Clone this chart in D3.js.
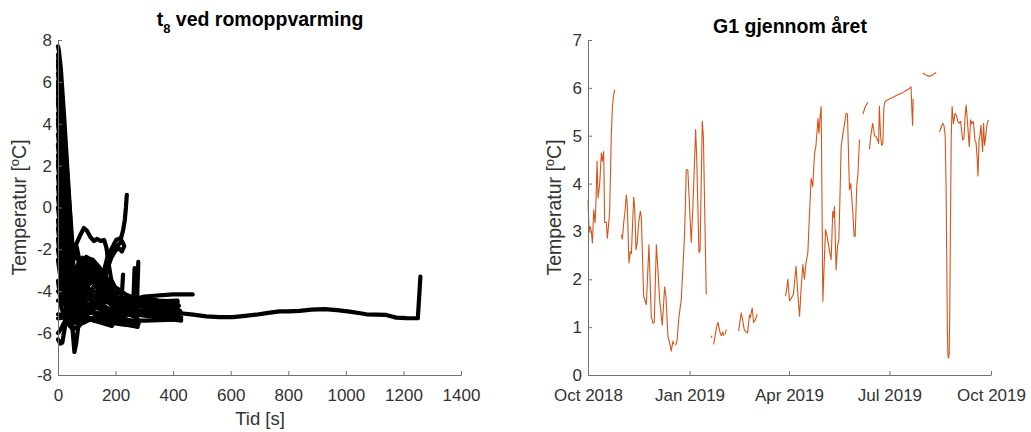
<!DOCTYPE html>
<html>
<head>
<meta charset="utf-8">
<script src="https://cdn.jsdelivr.net/npm/d3@7"></script>
<style>
  body { margin: 0; background: #fff; }
  svg text { font-family: "Liberation Sans", Arial, Helvetica, sans-serif; }
</style>
</head>
<body>
<svg id="fig" width="1031" height="432"></svg>
<script>
// ---------- Left panel: t8 during room heating, one line per heating run ----------
// each point: [time since start (s), temperature (°C)]
const run01 = [[0,7.7],[3,7.5],[10,6.6],[22,4.2],[34,1.5],[42,-0.2],[50,-1.75],[56,-2.0],[65,-1.7],[78,-1.3],[90,-0.98],[100,-1.1],[112,-1.4],[125,-1.6],[135,-1.5],[148,-1.6],[160,-1.55],[168,-1.9],[176,-2.7],[185,-3.45],[198,-3.8],[215,-3.95],[235,-4.15],[260,-4.3],[300,-4.35],[350,-4.45],[415,-4.5]];
const run02 = [[0,7.3],[8,6.3],[18,4.4],[30,2.0],[42,-0.4],[50,-2.2],[57,-3.3],[64,-4.2],[72,-4.6],[90,-4.9],[120,-5.0],[160,-5.1],[200,-5.15],[260,-5.1],[320,-5.05],[380,-5.05],[425,-5.05],[470,-5.12],[515,-5.2],[560,-5.24],[607,-5.24],[650,-5.18],[688,-5.12],[730,-5.03],[770,-4.96],[800,-4.96],[839,-4.94],[880,-4.88],[926,-4.85],[970,-4.9],[1013,-4.97],[1050,-5.05],[1071,-5.1],[1105,-5.12],[1140,-5.13],[1175,-5.26],[1210,-5.28],[1250,-5.29],[1259,-3.3]];
const run03 = [[0,5.8],[15,3.1],[30,0.2],[38,-1.8],[45,-4.0],[51,-5.9],[57,-6.9],[63,-6.5],[72,-5.5],[82,-4.4],[100,-4.0],[130,-4.3],[170,-4.8],[220,-5.3],[275,-5.6],[280,-5.55]];
const run04 = [[0,5.0],[12,3.2],[25,0.9],[37,-1.3],[46,-2.5],[55,-2.2],[65,-1.88],[80,-2.9],[90,-2.6],[98,-2.36],[110,-2.45],[121,-2.5],[140,-2.8],[167,-3.3],[185,-3.8],[200,-4.2],[230,-4.5],[270,-4.6],[350,-4.65],[415,-4.65]];
const run05 = [[0,4.0],[14,2.1],[28,-0.3],[40,-2.5],[50,-4.0],[70,-5.0],[100,-4.8],[120,-4.4],[138,-4.1],[150,-3.6],[160,-3.0],[173,-2.3],[185,-2.0],[202,-1.55],[219,-1.45],[226,-1.1],[232,-0.6],[236,0.0],[239,0.6]];
const run06 = [[0,3.0],[15,1.0],[30,-1.5],[45,-3.8],[65,-5.2],[90,-5.0],[120,-4.7],[144,-3.9],[160,-3.2],[175,-2.6],[190,-2.2],[202,-1.9],[215,-1.7],[222,-1.6],[228,-1.75]];
const run07 = [[0,2.0],[18,-0.3],[32,-2.4],[50,-4.5],[75,-5.3],[110,-5.0],[135,-4.4],[155,-3.7],[170,-3.0],[185,-2.4],[200,-2.05],[212,-1.95],[222,-2.1],[230,-1.85]];
const run08 = [[0,1.0],[12,-0.6],[25,-2.4],[40,-4.2],[55,-5.2],[80,-5.1],[120,-5.0],[160,-5.3],[188,-5.65]];
const run09 = [[0,0.0],[10,-1.2],[25,-2.8],[40,-4.3],[60,-5.0],[90,-4.5],[110,-3.0],[125,-2.6],[140,-2.85],[160,-3.5],[190,-4.0],[215,-4.1],[222,-4.15],[226,-3.2]];
const run10 = [[0,-0.6],[8,-1.7],[20,-3.3],[35,-4.6],[55,-5.3],[80,-4.2],[100,-3.0],[115,-2.55],[130,-2.7],[150,-3.4],[175,-4.0],[210,-4.3],[250,-4.35],[262,-4.4],[266,-2.9]];
const run11 = [[0,-1.5],[10,-2.9],[25,-4.4],[45,-5.3],[70,-4.8],[95,-3.5],[110,-2.8],[125,-3.0],[150,-3.8],[190,-4.3],[240,-4.35],[275,-4.3],[279,-2.6]];
const run12 = [[0,-2.5],[15,-4.0],[30,-5.0],[50,-5.6],[70,-4.5],[90,-2.9],[105,-2.6],[120,-3.2],[150,-4.2],[200,-4.7],[260,-4.9],[330,-5.0],[425,-5.0]];
const run13 = [[0,-4.45],[35,-4.45],[45,-4.9],[60,-5.4],[80,-5.0],[100,-4.4],[130,-4.3],[170,-4.5],[230,-4.8],[300,-4.95],[420,-5.05]];
const run14 = [[0,-5.1],[20,-5.15],[40,-5.2],[60,-5.5],[90,-5.3],[130,-5.4],[180,-5.5],[230,-5.6],[275,-5.65]];
const run15 = [[0,-5.3],[20,-5.25],[45,-5.6],[80,-5.2],[120,-5.0],[160,-5.2],[200,-5.4],[300,-5.4],[428,-5.35]];
const run16 = [[0,-6.0],[10,-5.8],[25,-5.4],[50,-5.8],[70,-5.7],[100,-5.3],[150,-5.5],[185,-5.65]];
const run17 = [[0,-6.3],[8,-6.5],[15,-6.45],[28,-5.4],[45,-5.0],[70,-4.7],[100,-4.8],[150,-5.2],[210,-5.5],[277,-5.7]];
const run18 = [[0,6.0],[15,3.4],[30,0.8],[45,-2.0],[60,-4.2],[80,-5.2],[120,-5.3],[170,-5.35],[220,-5.5],[270,-5.6]];
const run19 = [[0,4.5],[15,2.4],[30,-0.2],[43,-2.4],[55,-4.0],[75,-4.8],[110,-4.6],[160,-4.5],[220,-4.6],[300,-4.7],[380,-4.75],[420,-4.7]];
const run20 = [[0,2.5],[15,0.3],[30,-2.3],[45,-4.4],[60,-4.6],[75,-3.5],[90,-2.7],[100,-2.5],[115,-2.6],[135,-3.3],[160,-4.0],[200,-4.4],[260,-4.5],[330,-4.5],[415,-4.45]];
const run21 = [[0,-1.0],[12,-2.4],[28,-4.0],[45,-5.2],[62,-5.3],[85,-4.5],[105,-3.7],[125,-3.5],[150,-4.2],[200,-4.6],[300,-4.25],[400,-4.15],[468,-4.15]];
const run22 = [[0,3.5],[15,1.4],[30,-1.2],[48,-4.0],[62,-5.3],[90,-5.5],[130,-5.2],[180,-5.0],[240,-5.1],[320,-5.15],[428,-5.25]];
const run23 = [[0,-3.5],[12,-4.8],[30,-5.5],[55,-5.3],[85,-4.7],[100,-3.9],[118,-3.0],[130,-3.0],[150,-3.5],[190,-4.8],[230,-5.4],[276,-5.6]];
const run24 = [[0,1.5],[15,-0.6],[30,-2.9],[45,-4.8],[65,-5.5],[90,-5.0],[130,-4.8],[180,-4.9],[250,-5.0],[330,-5.05],[420,-4.9]];
const run25 = [[0,6.8],[10,5.4],[20,3.6],[30,1.6],[40,-0.4],[48,-2.2],[56,-3.6],[66,-3.0],[80,-2.6],[95,-2.7],[110,-3.2],[140,-3.8],[180,-4.4],[230,-4.6],[300,-4.6],[415,-4.55]];
const run26 = [[0,5.5],[12,3.8],[25,1.5],[38,-0.7],[48,-2.4],[58,-3.2],[70,-2.7],[85,-2.4],[100,-2.8],[125,-3.6],[160,-4.3],[220,-4.7],[275,-4.9]];
const run27 = [[0,4.2],[14,2.4],[28,0.1],[42,-2.0],[55,-3.2],[68,-3.8],[85,-3.3],[105,-2.9],[130,-3.4],[170,-4.3],[230,-4.6],[320,-4.8],[425,-4.95]];
const run28 = [[0,3.0],[15,1.4],[30,-0.9],[45,-2.7],[60,-4.0],[80,-4.2],[100,-3.6],[120,-3.3],[150,-3.9],[200,-4.6],[270,-5.0]];
const run29 = [[0,2.2],[15,0.5],[30,-1.5],[45,-3.3],[60,-4.6],[80,-4.4],[100,-4.1],[130,-4.0],[170,-4.4],[230,-4.9],[275,-5.2]];
const run30 = [[0,7.0],[12,5.1],[24,2.8],[36,0.4],[46,-1.6],[54,-2.5],[62,-2.1],[72,-2.6],[82,-3.2],[95,-3.0],[108,-2.7],[120,-2.9],[140,-3.5],[175,-4.2],[230,-4.5],[290,-4.55],[415,-4.6]];
const run31 = [[0,-2.0],[15,-3.5],[30,-4.5],[50,-4.2],[65,-3.4],[80,-3.0],[95,-3.6],[110,-4.0],[130,-3.7],[150,-4.0],[180,-4.6],[230,-5.0],[276,-5.3]];
const run32 = [[0,0.5],[15,-1.4],[30,-3.2],[45,-4.0],[60,-3.5],[72,-2.9],[88,-3.3],[105,-4.2],[125,-4.5],[150,-4.7],[185,-5.1],[230,-5.3],[275,-5.5]];
const run33 = [[0,5.2],[14,3.2],[28,0.9],[40,-1.3],[50,-2.8],[62,-3.9],[75,-4.3],[92,-3.9],[110,-3.5],[130,-3.2],[145,-3.6],[170,-4.2],[215,-4.55],[300,-4.7],[415,-4.75]];
const run34 = [[0,-4.0],[20,-4.3],[40,-4.0],[60,-3.6],[75,-4.0],[95,-4.6],[115,-4.9],[140,-4.6],[170,-4.8],[220,-5.0],[320,-5.2],[428,-5.4]];
const run35 = [[0,6.4],[12,4.6],[24,2.3],[36,-0.1],[46,-2.1],[56,-3.8],[66,-4.8],[80,-4.5],[95,-4.0],[115,-4.3],[140,-4.8],[190,-5.3],[240,-5.5],[278,-5.55]];
const heatingRuns = [run01,run02,run03,run04,run05,run06,run07,run08,run09,run10,
                     run11,run12,run13,run14,run15,run16,run17,run18,run19,run20,
                     run21,run22,run23,run24,run25,run26,run27,run28,run29,run30,
                     run31,run32,run33,run34,run35];
const timeTicks = [0,200,400,600,800,1000,1200,1400];
const t8TempTicks = [-8,-6,-4,-2,0,2,4,6,8];

// ---------- Right panel: G1 through the year ----------
// days after 1 Oct 2018 and temperature (°C); null marks a break in the record
const g1Day = [
  0,1,2,3,4,5.2,6.4,7.2,8.2,9.1,10.6,12.1,13,14.2,15.1,16.6,17.5,18.5,19.6,21.1,22.1,23.2,24.2, null,
  30.2,31.1,32.6,33.5,34.7,35.5,37.1,38.3,39.3,41.4,42.3,43.5,44.5,46,47.4,48.3,50.4,52.8,55.2,57.3,58.9,60,
  61.9,62.8,64.9,67.3,69.4,70.6,72.4,73.5,75.4,76.9,77.6, null,
  79.3,80.6,82.4,84.5,87.5,89,90.4,93.5,95,97.5,98.5,100.5,101.5,103.5,104.5,107.1, null,
  111.5,112.4, null,
  113.8,115,116.5,117.7,118.8,120,121,122,123, null,
  124.2,125.2, null,
  136.4,137.5,138.8,140,141.5,143,144.5,146.3,147,148.7,150,151.5,153.3, null,
  178.9,180,181,182.5,184,186,188.4,190.5,191.6,193,194.6,196,197.5,199.1,200.5,202.1,203.5,205.2,206.5,
  208.3,209.2,210.2,211.2,212.7,215.1,216.5,218,220.2,221.7,222.5,223.2,224.7,226,227.2,228.3,229.3,230.5,
  232,233.8,235,236.8,238,239.8,241,242,243.4,244.5,245.2,245.9, null,
  249,251,253.4, null,
  254.9,256.4,257.9,259.5,261,262.5,263.2,263.9,265,266,267,268,269,272,276,280,285,290,292.6,293.4,294,294.5, null,
  303.2,306,309.2,312,315.3, null,
  318.3,319.5,321.3,322.5,323.5,324.3,325,325.5,326,326.5,327.1,327.6,328.3,329,329.8,331,332.5,334,335,336.3,
  337.5,339.3,340.5,341.5,342.5,343.5,345.3,346.5,347.5,349,350.5,351.4,352.3,353.2,354.2,355,355.9,356.6,
  357.4,358.3,359.2,360.3,361.1,362.6
];
const g1Temp = [
  3.65,3.0,3.1,3.0,2.76,3.45,3.18,3.6,4.47,3.7,4.0,4.64,4.47,4.67,3.19,3.19,2.86,3.1,3.42,4.99,5.6,5.85,5.96, null,
  2.93,2.84,3.24,3.4,3.76,3.6,2.34,2.58,2.54,3.72,3.5,2.62,2.75,3.2,3.42,3.3,1.64,1.47,2.72,1.22,1.08,1.1,
  2.72,2.4,1.57,1.04,1.84,1.64,0.8,0.72,0.5,0.71,0.64, null,
  0.62,0.71,1.22,1.57,2.96,4.29,4.29,2.77,3.5,5.13,4.5,2.56,2.6,5.3,5.0,1.68, null,
  0.82,0.78, null,
  0.64,0.8,1.0,1.1,0.98,0.85,0.82,0.9,0.82, null,
  0.85,0.95, null,
  0.92,1.1,1.3,1.15,0.95,0.9,0.88,1.25,1.2,1.4,1.1,1.15,1.27, null,
  1.65,1.8,2.0,1.55,1.6,1.68,2.27,1.55,1.23,1.8,2.31,2.0,2.35,2.55,3.3,4.11,3.94,4.63,4.8,
  5.36,5.05,5.4,5.61,1.54,3.04,2.9,2.7,2.41,3.42,3.3,3.52,2.2,2.7,2.83,3.8,4.78,4.98,
  5.2,5.47,5.45,3.87,4.0,3.42,2.9,2.9,3.94,4.2,4.57,4.92, null,
  5.45,5.6,5.7, null,
  4.72,5.05,5.26,5.0,4.98,4.9,4.84,5.62,5.0,4.8,4.82,5.6,5.71,5.76,5.8,5.85,5.9,5.97,6.02,5.5,5.22,5.77, null,
  6.31,6.27,6.24,6.27,6.32, null,
  5.08,5.15,5.26,5.2,5.0,4.0,2.2,0.9,0.42,0.35,0.45,1.2,3.2,5.0,5.61,5.25,5.47,5.4,5.3,5.26,
  5.3,4.91,4.95,5.4,5.64,5.35,4.77,5.33,5.25,5.3,4.9,4.86,4.6,4.16,4.9,5.0,5.22,4.95,
  4.67,5.26,4.8,5.0,5.2,5.33
];
const g1Start = "2018-10-01";
const g1End = "2019-10-01";
const g1TickDates = ["2018-10-01","2019-01-01","2019-04-01","2019-07-01","2019-10-01"];
const g1TempTicks = [0,1,2,3,4,5,6,7];

// ---------- drawing ----------
const svg = d3.select("#fig");
const AXIS_GREY = "#707070";
const TICK_TEXT = "#333333";
const TICK_FONT = 17;
const LABEL_FONT = 19.5;
const TITLE_FONT = 19.5;
const plainNumber = v => String(v);   // ASCII hyphen for negative ticks

function styleAxis(g) {
  g.attr("font-size", null).attr("font-family", null);
  g.select(".domain").attr("stroke", AXIS_GREY).attr("stroke-width", 1);
  g.selectAll(".tick line").attr("stroke", AXIS_GREY).attr("stroke-width", 1);
  g.selectAll(".tick text").attr("fill", TICK_TEXT).style("font-size", TICK_FONT + "px");
}

function drawAxes(x, y, xTicks, xFmt, yTicks) {
  const xa = svg.append("g")
    .attr("transform", `translate(0,${y.range()[0]})`)
    .call(d3.axisBottom(x).tickValues(xTicks).tickFormat(xFmt).tickSizeInner(-4).tickSizeOuter(0));
  styleAxis(xa);
  xa.selectAll(".tick text").attr("y", 14);

  const ya = svg.append("g")
    .attr("transform", `translate(${x.range()[0]},0)`)
    .call(d3.axisLeft(y).tickValues(yTicks).tickFormat(plainNumber).tickSizeInner(-4).tickSizeOuter(0));
  styleAxis(ya);
  ya.selectAll(".tick text").attr("x", -6);
}

function yLabel(xPos, yPos) {
  const t = svg.append("text")
    .attr("transform", `translate(${xPos},${yPos}) rotate(-90)`)
    .attr("text-anchor", "middle")
    .attr("fill", TICK_TEXT)
    .style("font-size", LABEL_FONT + "px");
  t.append("tspan").text("Temperatur [");
  t.append("tspan").text("o").style("font-size", "13px").attr("dy", -7);
  t.append("tspan").text("C]").attr("dy", 7);
}

// --- left panel
const xL = d3.scaleLinear().domain([0, 1400]).range([58, 461]);
const yL = d3.scaleLinear().domain([-8, 8]).range([375, 40]);

const runLine = d3.line().x(d => xL(d[0])).y(d => yL(d[1]));
svg.append("g")
  .selectAll("path")
  .data(heatingRuns)
  .join("path")
  .attr("d", runLine)
  .attr("fill", "none")
  .attr("stroke", "#000")
  .attr("stroke-width", 4.2)
  .attr("stroke-linejoin", "round")
  .attr("stroke-linecap", "round");

drawAxes(xL, yL, timeTicks, plainNumber, t8TempTicks);

const titleL = svg.append("text")
  .attr("x", 260).attr("y", 26)
  .attr("text-anchor", "middle")
  .attr("font-weight", "bold")
  .attr("fill", "#000")
  .style("font-size", TITLE_FONT + "px");
titleL.append("tspan").text("t");
titleL.append("tspan").text("8").style("font-size", "13px").attr("dy", 7);
titleL.append("tspan").text(" ved romoppvarming").attr("dy", -7);

svg.append("text")
  .attr("x", 260).attr("y", 425)
  .attr("text-anchor", "middle")
  .attr("fill", TICK_TEXT)
  .style("font-size", "18.5px")
  .text("Tid [s]");

yLabel(26, 207.5);

// --- right panel
const parseDay = d3.utcParse("%Y-%m-%d");
const t0 = parseDay(g1Start);
const DAY = 86400000;
const xR = d3.scaleUtc().domain([t0, parseDay(g1End)]).range([588, 991]);
const yR = d3.scaleLinear().domain([0, 7]).range([375, 40]);

const g1Points = g1Day.map((d, i) => ({
  date: d == null ? null : new Date(t0.getTime() + d * DAY),
  temp: g1Temp[i]
}));
const g1Line = d3.line()
  .defined(p => p.date != null && p.temp != null)
  .x(p => xR(p.date))
  .y(p => yR(p.temp));

svg.append("path")
  .datum(g1Points)
  .attr("d", g1Line)
  .attr("fill", "none")
  .attr("stroke", "#D95319")
  .attr("stroke-width", 1.1)
  .attr("stroke-linejoin", "round");

drawAxes(xR, yR, g1TickDates.map(parseDay), d3.utcFormat("%b %Y"), g1TempTicks);

svg.append("text")
  .attr("x", 790).attr("y", 33)
  .attr("text-anchor", "middle")
  .attr("font-weight", "bold")
  .attr("fill", "#000")
  .style("font-size", TITLE_FONT + "px")
  .text("G1 gjennom året");

yLabel(561, 207.5);
</script>
</body>
</html>
